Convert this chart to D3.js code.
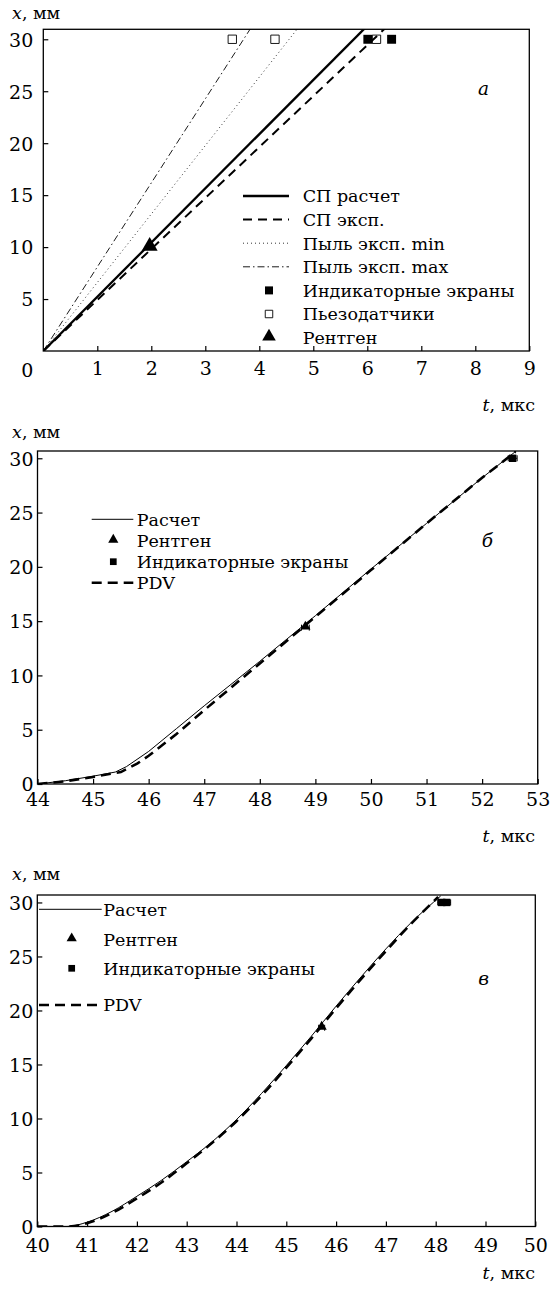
<!DOCTYPE html>
<html>
<head>
<meta charset="utf-8">
<script src="https://cdn.jsdelivr.net/npm/d3@7"></script>
<style>
  body { margin: 0; background: #fff; }
  svg text { font-family: "DejaVu Serif", serif; fill: #000; }
</style>
</head>
<body>
<div id="chart"></div>
<script>
// ---- panel a: t (mks) vs x (mm)
const aCalc    = [[0, 0], [6.0, 31.3]];
const aExp     = [[0, 0], [6.4, 31.4]];
const aDustMin = [[0, 0], [4.75, 31.3]];
const aDustMax = [[0, 0], [3.87, 31.3]];
const aScreens = [[6.01, 30], [6.45, 30]];
const aPiezo   = [[3.5, 30], [4.29, 30], [6.17, 30]];
const aXray    = [[1.97, 10]];
const aXTicks  = [1, 2, 3, 4, 5, 6, 7, 8, 9];
const aYTicks  = [5, 10, 15, 20, 25, 30];

// ---- panel b
const bCalc = [[44, 0], [44.5, 0.3], [45, 0.72], [45.4, 1.1], [45.6, 1.6], [46, 3.0], [46.5, 5.1],
  [47, 7.2], [48, 11.3], [49, 15.5], [50, 19.8], [51, 24.0], [52, 28.2], [52.62, 30.7]];
const bPdv = [[44, 0], [44.5, 0.25], [45, 0.65], [45.5, 1.1], [45.8, 1.9], [46, 2.6], [46.5, 4.6],
  [47, 6.8], [48, 11.1], [49, 15.4], [50, 19.7], [51, 24.0], [52, 28.2], [52.6, 30.6]];
const bXray    = [[48.82, 14.4]];
const bScreens = [[52.55, 30.0]];
const bXTicks  = [44, 45, 46, 47, 48, 49, 50, 51, 52, 53];
const bYTicks  = [0, 5, 10, 15, 20, 25, 30];

// ---- panel c
const cCalc = [[40, 0], [40.6, 0], [41, 0.4], [41.5, 1.4], [42, 2.8], [42.5, 4.3], [43, 6.0],
  [43.5, 7.8], [44, 9.9], [44.5, 12.3], [45, 14.9], [45.5, 17.6], [46, 20.4], [46.5, 23.1],
  [47, 25.7], [47.5, 28.1], [48.1, 30.6]];
const cPdv = [[40, 0], [40.6, 0], [41, 0.3], [41.5, 1.25], [42, 2.6], [42.5, 4.1], [43, 5.85],
  [43.5, 7.7], [44, 9.75], [44.5, 12.1], [45, 14.7], [45.5, 17.4], [46, 20.2], [46.5, 22.9],
  [47, 25.5], [47.5, 28.0], [48.05, 30.5]];
const cXray    = [[45.71, 18.4]];
const cScreens = [[48.12, 30.0], [48.22, 30.0]];
const cXTicks  = [40, 41, 42, 43, 44, 45, 46, 47, 48, 49, 50];
const cYTicks  = [0, 5, 10, 15, 20, 25, 30];

const FONT = "DejaVu Serif, serif";
const FS = 19;      // tick labels
const LFS = 17.5;   // legend / titles

const svg = d3.select("#chart").append("svg")
  .attr("width", 551)
  .attr("height", 1290)
  .attr("font-family", FONT);
const defs = svg.append("defs");

function drawPanel(p) {
  const x = d3.scaleLinear().domain(p.xDomain).range(p.xRange);
  const y = d3.scaleLinear().domain(p.yDomain).range(p.yRange);
  const g = svg.append("g");

  defs.append("clipPath").attr("id", "clip-" + p.name)
    .append("rect")
      .attr("x", p.xRange[0]).attr("y", p.yRange[1])
      .attr("width", p.xRange[1] - p.xRange[0])
      .attr("height", p.yRange[0] - p.yRange[1]);

  // axes with inward ticks
  const xAxis = g.append("g")
    .attr("transform", `translate(0,${p.yRange[0]})`)
    .call(d3.axisBottom(x).tickValues(p.xTicks).tickSize(-5).tickPadding(p.xPad).tickFormat(d3.format("d")));
  const yAxis = g.append("g")
    .attr("transform", `translate(${p.xRange[0]},0)`)
    .call(d3.axisLeft(y).tickValues(p.yTicks).tickSize(-5).tickPadding(p.yPad).tickFormat(d3.format("d")));
  [xAxis, yAxis].forEach(a => {
    a.attr("font-family", FONT).attr("font-size", FS);
    a.select(".domain").remove();
    a.selectAll(".tick line").attr("stroke-width", 1.2);
  });
  yAxis.selectAll(".tick text").attr("dy", "0.36em");

  // frame
  g.append("rect")
    .attr("x", p.xRange[0]).attr("y", p.yRange[1])
    .attr("width", p.xRange[1] - p.xRange[0])
    .attr("height", p.yRange[0] - p.yRange[1])
    .attr("fill", "none")
    .attr("stroke", "#000")
    .attr("stroke-width", 1.3);

  // lines
  const line = d3.line().x(d => x(d[0])).y(d => y(d[1])).curve(p.curve || d3.curveLinear);
  const lines = g.append("g").attr("clip-path", `url(#clip-${p.name})`);
  p.series.forEach(s => {
    lines.append("path")
      .datum(s.data)
      .attr("d", line)
      .attr("fill", "none")
      .attr("stroke", "#000")
      .attr("stroke-width", s.width)
      .attr("stroke-dasharray", s.dash || null);
  });

  // markers (+ small horizontal error bars)
  p.markers.forEach(m => {
    if (m.err) {
      g.append("g").selectAll("path")
        .data(m.data)
        .join("path")
          .attr("d", d => {
            const x0 = x(d[0] - m.err), x1 = x(d[0] + m.err), yy = y(d[1]);
            return `M${x0},${yy}H${x1}M${x0},${yy - 3}V${yy + 3}M${x1},${yy - 3}V${yy + 3}`;
          })
          .attr("stroke", "#000")
          .attr("stroke-width", 1);
    }
    g.append("g").selectAll("path")
      .data(m.data)
      .join("path")
        .attr("transform", d => `translate(${x(d[0])},${y(d[1]) + (m.shift || 0)})`)
        .attr("d", d3.symbol(m.symbol, m.size))
        .attr("fill", m.fill)
        .attr("stroke", "#000")
        .attr("stroke-width", m.fill === "none" ? 0.9 : 0);
  });

  // legend
  p.legend.forEach(l => {
    if (l.series) {
      g.append("line")
        .attr("x1", p.legendLine[0]).attr("x2", p.legendLine[1])
        .attr("y1", l.y).attr("y2", l.y)
        .attr("stroke", "#000")
        .attr("stroke-width", l.series.width)
        .attr("stroke-dasharray", l.series.dash || null);
    } else {
      g.append("path")
        .attr("transform", `translate(${p.legendMark},${l.y + (l.marker.shift || 0)})`)
        .attr("d", d3.symbol(l.marker.symbol, l.marker.legendSize))
        .attr("fill", l.marker.fill)
        .attr("stroke", "#000")
        .attr("stroke-width", l.marker.fill === "none" ? 0.9 : 0);
    }
    g.append("text")
      .attr("x", p.legendText)
      .attr("y", l.y)
      .attr("dy", "0.36em")
      .attr("font-size", LFS)
      .text(l.label);
  });

  // axis titles
  const xt = g.append("text").attr("x", 12).attr("y", p.titleY).attr("font-size", LFS);
  xt.append("tspan").attr("font-style", "italic").text("x");
  xt.append("tspan").text(", мм");
  const tt = g.append("text").attr("x", 535).attr("y", p.tTitleY)
    .attr("text-anchor", "end").attr("font-size", LFS);
  tt.append("tspan").attr("font-style", "italic").text("t");
  tt.append("tspan").text(", мкс");

  // panel letter
  g.append("text")
    .attr("x", p.letterPos[0]).attr("y", p.letterPos[1])
    .attr("dy", "0.36em")
    .attr("font-size", LFS + 1)
    .attr("font-style", "italic")
    .text(p.letter);

  return { x, y, g };
}

// panel a
const aS = {
  calc: { data: aCalc, width: 2.3 },
  exp: { data: aExp, width: 2, dash: "9,6" },
  dmin: { data: aDustMin, width: 0.8, dash: "1,3" },
  dmax: { data: aDustMax, width: 0.9, dash: "7,3,1.5,3" }
};
const aM = {
  screens: { data: aScreens, symbol: d3.symbolSquare, size: 80, legendSize: 64, fill: "#000" },
  piezo: { data: aPiezo, symbol: d3.symbolSquare, size: 70, legendSize: 56, fill: "none" },
  xray: { data: aXray, symbol: d3.symbolTriangle, size: 110, legendSize: 80, fill: "#000", shift: -1 }
};
const pa = drawPanel({
  name: "a", xDomain: [0, 9], xRange: [43.3, 529.3], yDomain: [0, 30.96], yRange: [351, 29.3],
  xTicks: aXTicks, yTicks: aYTicks, xPad: 11, yPad: 10,
  series: [aS.dmin, aS.dmax, aS.exp, aS.calc],
  markers: [aM.piezo, aM.screens, aM.xray],
  legendLine: [243, 289], legendMark: 269, legendText: 302.7,
  legend: [
    { label: "СП расчет", y: 196, series: aS.calc },
    { label: "СП эксп.", y: 219.6, series: aS.exp },
    { label: "Пыль эксп. min", y: 243.2, series: aS.dmin },
    { label: "Пыль эксп. max", y: 266.8, series: aS.dmax },
    { label: "Индикаторные экраны", y: 290.4, marker: aM.screens },
    { label: "Пьезодатчики", y: 314, marker: aM.piezo },
    { label: "Рентген", y: 337.6, marker: aM.xray }
  ],
  titleY: 19, tTitleY: 411, letter: "a", letterPos: [478, 88]
});
// shared corner zero of panel a
pa.g.append("text")
  .attr("x", pa.x(0) - 16).attr("y", pa.y(0) + 26)
  .attr("text-anchor", "middle").attr("font-size", FS)
  .text("0");

// panel b
const bS = {
  calc: { data: bCalc, width: 1 },
  pdv: { data: bPdv, width: 2.6, dash: "10,6" }
};
const bM = {
  xray: { data: bXray, symbol: d3.symbolTriangle, size: 45, legendSize: 45, fill: "#000", err: 0.07, shift: -1 },
  screens: { data: bScreens, symbol: d3.symbolSquare, size: 55, legendSize: 45, fill: "#000", err: 0.08 }
};
drawPanel({
  name: "b", xDomain: [44, 53], xRange: [37.5, 537.7], yDomain: [0, 30.67], yRange: [784, 451],
  xTicks: bXTicks, yTicks: bYTicks, xPad: 9, yPad: 4,
  series: [bS.pdv, bS.calc],
  markers: [bM.xray, bM.screens],
  legendLine: [91.7, 133.3], legendMark: 113.3, legendText: 136.7,
  legend: [
    { label: "Расчет", y: 519.3, series: bS.calc },
    { label: "Рентген", y: 540.7, marker: bM.xray },
    { label: "Индикаторные экраны", y: 561.7, marker: bM.screens },
    { label: "PDV", y: 582.7, series: bS.pdv }
  ],
  titleY: 438, tTitleY: 842, letter: "б", letterPos: [481.7, 540]
});

// panel c
const cS = {
  calc: { data: cCalc, width: 1 },
  pdv: { data: cPdv, width: 2.6, dash: "10,6" }
};
const cM = {
  xray: { data: cXray, symbol: d3.symbolTriangle, size: 45, legendSize: 45, fill: "#000", err: 0.06, shift: -1 },
  screens: { data: cScreens, symbol: d3.symbolSquare, size: 55, legendSize: 45, fill: "#000", err: 0.08 }
};
drawPanel({
  name: "c", xDomain: [40, 50], xRange: [37.3, 535.3], yDomain: [0, 30.69], yRange: [1226.5, 895],
  xTicks: cXTicks, yTicks: cYTicks, xPad: 12.5, yPad: 4, curve: d3.curveMonotoneX,
  series: [cS.pdv, cS.calc],
  markers: [cM.xray, cM.screens],
  legendLine: [39, 101.7], legendMark: 71.7, legendText: 103.3,
  legend: [
    { label: "Расчет", y: 909.3, series: cS.calc },
    { label: "Рентген", y: 939.3, marker: cM.xray },
    { label: "Индикаторные экраны", y: 968.3, marker: cM.screens },
    { label: "PDV", y: 1005, series: cS.pdv }
  ],
  titleY: 880, tTitleY: 1279, letter: "в", letterPos: [478.3, 978]
});
</script>
</body>
</html>
